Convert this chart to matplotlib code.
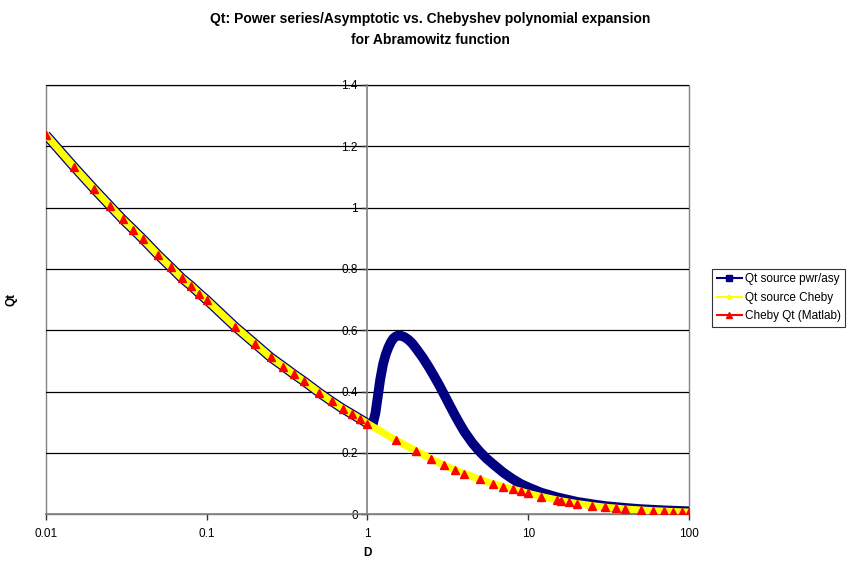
import matplotlib
matplotlib.use("Agg")
import matplotlib.pyplot as plt
from matplotlib.lines import Line2D
from matplotlib.patches import Rectangle

plt.rcParams['font.family'] = ['Liberation Sans', 'DejaVu Sans']

# Correct Qt values (Chebyshev)
cheby_x = [0.01, 0.015, 0.02, 0.025, 0.03, 0.035, 0.04, 0.05, 0.06, 0.07, 0.08, 0.09,
           0.1, 0.15, 0.2, 0.25, 0.3, 0.35, 0.4, 0.5, 0.6, 0.7, 0.8, 0.9,
           1.0, 1.5, 2, 2.5, 3, 3.5, 4, 5, 6, 7, 8, 9,
           10, 12, 15, 16, 18, 20, 25, 30, 35, 40, 50, 60, 70, 80, 90, 100]
cheby_y = [1.237, 1.132, 1.060, 1.006, 0.962, 0.928, 0.898, 0.845, 0.805, 0.770, 0.745, 0.720,
           0.699, 0.612, 0.556, 0.512, 0.482, 0.456, 0.435, 0.397, 0.368, 0.345, 0.327, 0.311,
           0.296, 0.242, 0.207, 0.180, 0.160, 0.145, 0.133, 0.114, 0.100, 0.090, 0.082, 0.075,
           0.068, 0.058, 0.047, 0.044, 0.039, 0.035, 0.028, 0.023, 0.020, 0.017, 0.014, 0.0115,
           0.010, 0.0088, 0.0078, 0.007]

# Power series / asymptotic source values
pwr_x = [0.01, 0.015, 0.02, 0.025, 0.03, 0.035, 0.04, 0.05, 0.06, 0.07, 0.08, 0.09,
         0.1, 0.15, 0.2, 0.25, 0.3, 0.35, 0.4, 0.5, 0.6, 0.7, 0.8, 0.9,
         1.0, 1.08, 1.12, 1.16, 1.2, 1.25, 1.3, 1.35, 1.4, 1.45, 1.5, 1.55, 1.6, 1.7, 1.8,
         1.9, 2.0, 2.2, 2.4, 2.6, 2.8, 3.0, 3.25, 3.5, 3.75, 4, 4.5, 5, 5.5, 6, 7, 8, 9, 10,
         12, 15, 20, 25, 30, 40, 50, 70, 100]
pwr_y = [1.237, 1.132, 1.060, 1.006, 0.962, 0.928, 0.898, 0.845, 0.805, 0.770, 0.745, 0.720,
         0.699, 0.612, 0.556, 0.512, 0.482, 0.456, 0.435, 0.397, 0.368, 0.345, 0.327, 0.311,
         0.296, 0.295, 0.330, 0.385, 0.440, 0.490, 0.522, 0.545, 0.562, 0.574, 0.580, 0.583,
         0.583, 0.578, 0.569, 0.557, 0.542, 0.512, 0.481, 0.450, 0.420, 0.390, 0.355, 0.323,
         0.295, 0.270, 0.232, 0.204, 0.182, 0.165, 0.136, 0.115, 0.099, 0.088, 0.071, 0.056,
         0.041, 0.033, 0.027, 0.021, 0.017, 0.013, 0.010]

# Matlab Chebyshev points
matlab_x = cheby_x
matlab_y = cheby_y

series_names = ["Qt source pwr/asy", "Qt source Cheby", "Cheby Qt (Matlab)"]
title = "Qt: Power series/Asymptotic vs. Chebyshev polynomial expansion\nfor Abramowitz function"
xticks = [0.01, 0.1, 1, 10, 100]
xticklabels = ["0.01", "0.1", "1", "10", "100"]
yticks = [0, 0.2, 0.4, 0.6, 0.8, 1.0, 1.2, 1.4]
yticklabels = ["0", "0.2", "0.4", "0.6", "0.8", "1", "1.2", "1.4"]

fig = plt.figure(figsize=(8.5, 5.61), dpi=100)
ax = fig.add_axes([0.0541, 0.0832, 0.7565, 0.7653])

navy = "#000080"
ax.plot(pwr_x, pwr_y, color=navy, lw=7, solid_capstyle='butt', solid_joinstyle='round', zorder=3)
ax.plot(cheby_x, cheby_y, color="#ffff00", lw=5.2, solid_capstyle='butt', zorder=4)
ax.plot(matlab_x, matlab_y, ls='none', marker='^', color="#ff0000", ms=5.5, zorder=5)

ax.set_xscale('log')
ax.set_xlim(0.01, 100)
ax.set_ylim(0, 1.4)
ax.set_xticks(xticks)
ax.set_xticklabels(xticklabels)
ax.xaxis.set_minor_locator(matplotlib.ticker.NullLocator())
ax.set_yticks(yticks)
ax.set_yticklabels(yticklabels)

for y in yticks[1:]:
    ax.axhline(y, color="#000000", lw=0.9, zorder=1)

for s in ['top', 'right']:
    ax.spines[s].set_visible(False)
ax.spines['left'].set_position(('data', 1))
ax.spines['left'].set_color("#808080")
ax.spines['left'].set_linewidth(1.2)
ax.spines['bottom'].set_color("#808080")
ax.spines['bottom'].set_linewidth(1.2)
ax.add_patch(Rectangle((0, 0), 1, 1, transform=ax.transAxes, fill=False,
                       edgecolor="#808080", lw=1.0, zorder=0.5, clip_on=False))

ax.tick_params(axis='both', labelsize=8.5, colors="#333333", length=4, width=1, direction='out')
ax.tick_params(axis='y', pad=3)
ax.tick_params(axis='x', pad=6)
for lbl in ax.get_xticklabels() + ax.get_yticklabels():
    lbl.set_color("#000000")

ax.set_xlabel("D", fontsize=8.5, fontweight='bold')
ax.set_ylabel("Qt", fontsize=8.5, fontweight='bold')
ax.yaxis.set_label_coords(-0.045, 0.5)
ax.xaxis.set_label_coords(0.5, -0.075)

fig.text(0.506, 0.978, title, ha='center', va='top', fontsize=10, fontweight='bold',
         linespacing=1.6)

handles = [
    Line2D([], [], color=navy, lw=1.5, marker='s', ms=4),
    Line2D([], [], color="#ffff00", lw=1.5, marker='D', ms=2.5),
    Line2D([], [], color="#ff0000", lw=1.5, marker='^', ms=5),
]
leg = fig.legend(handles, series_names, loc='upper left', bbox_to_anchor=(0.838, 0.521),
                 fontsize=8.5, frameon=True, fancybox=False, shadow=False, borderpad=0.4,
                 handlelength=2.1, handletextpad=0.25, labelspacing=0.55, borderaxespad=0)
leg.get_frame().set_edgecolor("#000000")
leg.get_frame().set_linewidth(0.8)

fig.savefig("out.png", dpi=100)
